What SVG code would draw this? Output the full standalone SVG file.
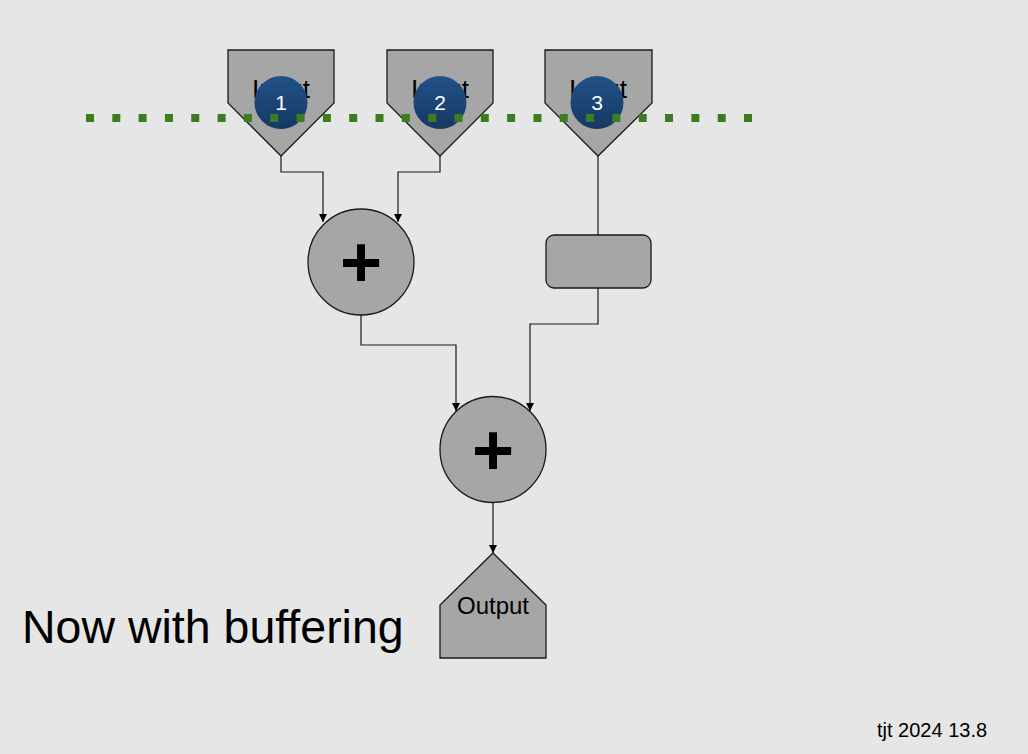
<svg xmlns="http://www.w3.org/2000/svg" width="1028" height="754" viewBox="0 0 1028 754">
<defs>
<linearGradient id="bg" x1="0" y1="0" x2="0" y2="1">
<stop offset="0" stop-color="#21528a"/>
<stop offset="1" stop-color="#163861"/>
</linearGradient>
<marker id="arr" viewBox="0 0 10 10" refX="10" refY="5" markerWidth="8" markerHeight="8" markerUnits="userSpaceOnUse" orient="auto">
<path d="M0,0 L10,5 L0,10 z" fill="#000"/>
</marker>
<style>
.shape{fill:#a6a6a6;stroke:#1a1a1a;stroke-width:1.3}
.conn{fill:none;stroke:#1a1a1a;stroke-width:1.2}
.lbl{font-family:"Liberation Sans",Arial,sans-serif;fill:#000;text-anchor:middle}
.plus{font-family:"Liberation Sans",Arial,sans-serif;font-weight:bold;font-size:72px;fill:#000;text-anchor:middle}
.badge{fill:url(#bg)}
.num{font-family:"Liberation Sans",Arial,sans-serif;font-size:21px;fill:#fff;text-anchor:middle}
</style>
</defs>
<rect width="1028" height="754" fill="#e6e6e6"/>

<g id="connectors">
<path class="conn" d="M281,156 V172 H323 V222" marker-end="url(#arr)"/>
<path class="conn" d="M440,156 V172 H398 V222" marker-end="url(#arr)"/>
<path class="conn" d="M598,156 V235"/>
<path class="conn" d="M598,288 V324 H530 V411" marker-end="url(#arr)"/>
<path class="conn" d="M361,315 V345 H456 V411" marker-end="url(#arr)"/>
<path class="conn" d="M493,502 V553" marker-end="url(#arr)"/>
</g>

<g id="input1">
<path class="shape" d="M228,50 H334 V103 L281,156 L228,103 Z"/>
<text class="lbl" x="281" y="98" font-size="26">Input</text>
</g>
<g id="input2">
<path class="shape" d="M387,50 H493 V103 L440,156 L387,103 Z"/>
<text class="lbl" x="440" y="98" font-size="26">Input</text>
</g>
<g id="input3">
<path class="shape" d="M545,50 H652 V103 L598,156 L545,103 Z"/>
<text class="lbl" x="598" y="98" font-size="26">Input</text>
</g>

<g id="sum1">
<circle class="shape" cx="361" cy="262" r="53"/>
<text class="plus" x="361" y="287">+</text>
</g>
<g id="buffer">
<rect class="shape" x="546" y="235" width="105" height="53" rx="8"/>
</g>
<g id="sum2">
<circle class="shape" cx="493" cy="449.5" r="53"/>
<text class="plus" x="493" y="474.5">+</text>
</g>
<g id="output">
<path class="shape" d="M493,553 L546,605 V658 H440 V605 Z"/>
<text class="lbl" x="493" y="614" font-size="24">Output</text>
</g>

<g id="badge1">
<circle class="badge" cx="281" cy="102.5" r="26.5"/>
<text class="num" x="281" y="110">1</text>
</g>
<g id="badge2">
<circle class="badge" cx="440" cy="102.5" r="26.5"/>
<text class="num" x="440" y="110">2</text>
</g>
<g id="badge3">
<circle class="badge" cx="597" cy="102.5" r="26.5"/>
<text class="num" x="597" y="110">3</text>
</g>

<g id="dotted-line">
<line x1="86" y1="118" x2="752" y2="118" stroke="#3a7d22" stroke-width="8" stroke-dasharray="8 18.32"/>
</g>

<text id="title" x="22" y="643" font-family="'Liberation Sans',Arial,sans-serif" font-size="46.5" fill="#000">Now with buffering</text>
<text id="footer" x="877" y="737" font-family="'Liberation Sans',Arial,sans-serif" font-size="20" fill="#000">tjt 2024 13.8</text>
</svg>
